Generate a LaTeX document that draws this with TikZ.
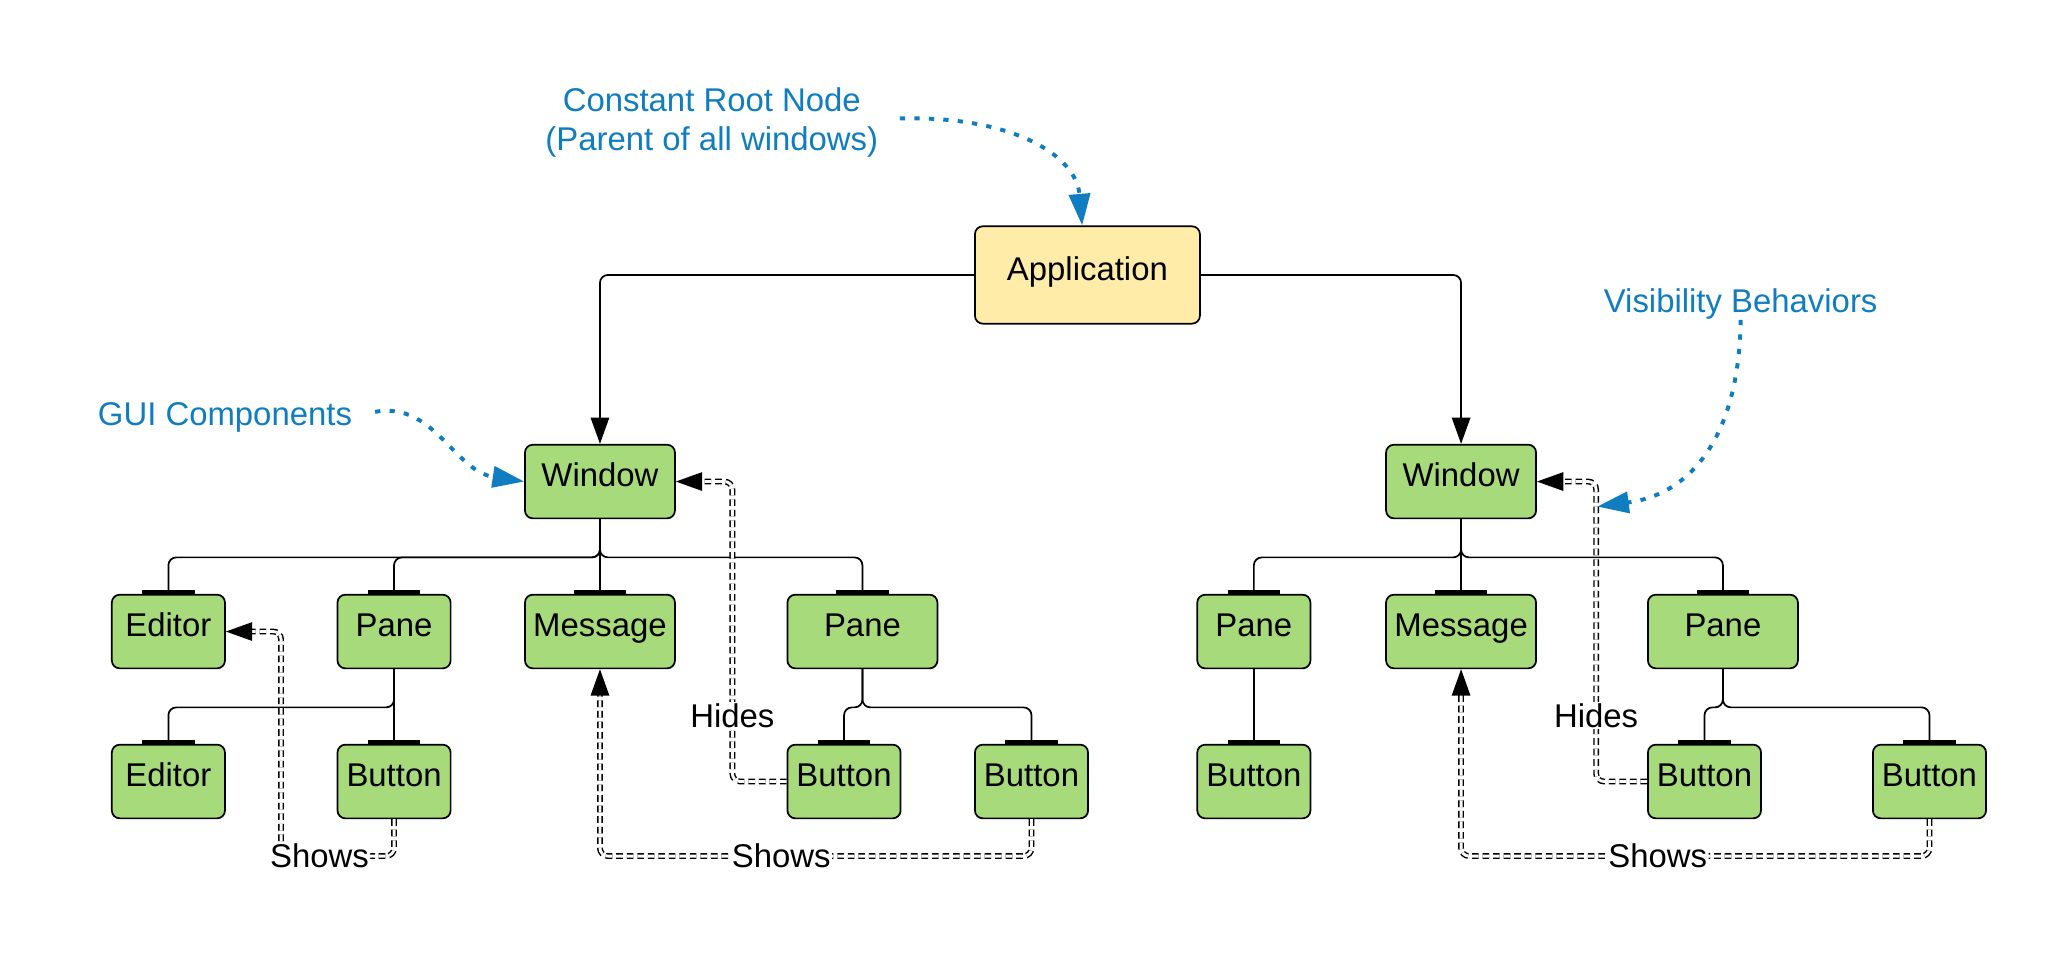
\documentclass[tikz,border=0pt]{standalone}
\usepackage{fontspec}
\setmainfont{Liberation Sans}
\usetikzlibrary{arrows.meta}
\definecolor{boxgreen}{RGB}{166,218,122}
\definecolor{appyellow}{RGB}{255,236,168}
\definecolor{noteblue}{RGB}{16,125,192}
\tikzset{
  widget/.style={draw, line width=1.3pt, rounded corners=6pt, fill=boxgreen,
    minimum height=56pt, inner sep=0pt, text height=18pt, text depth=10pt,
    font=\fontsize{25}{30}\selectfont},
  narrow/.style={widget, minimum width=86pt},
  broad/.style={widget, minimum width=114pt},
  trunk/.style={line width=1.3pt, rounded corners=6pt, -{Triangle[length=20pt,width=14pt]}},
  branch/.style={line width=1.3pt, rounded corners=6pt, -{Bar[width=40pt,line width=2.6pt]}},
  link/.style={double, double distance=2.2pt, line width=1.1pt, dash pattern=on 5pt off 3pt,
    rounded corners=6pt, -{Triangle[length=20pt,width=14pt]}},
  linklabel/.style={fill=white, inner sep=1pt, font=\fontsize{25}{30}\selectfont},
  note/.style={text=noteblue, align=center, font=\fontsize{25}{30}\selectfont},
  notearrow/.style={noteblue, line width=3pt, dash pattern=on 4pt off 7pt,
    -{Triangle[length=24pt,width=16pt]}}
}
\begin{document}
\begin{tikzpicture}[x=1pt,y=-1pt]
  \useasboundingbox (0,0) rectangle (1568,724.3);
  % root
  \node[widget, fill=appyellow, minimum width=171pt, minimum height=74pt] (app) at (826.5,209) {Application};
  % windows
  \node[broad] (win1) at (456,366) {Window};
  \node[broad] (win2) at (1110.5,366) {Window};
  % second row
  \node[narrow] (ed1) at (128,480) {Editor};
  \node[narrow] (pane1) at (299.5,480) {Pane};
  \node[broad] (msg1) at (456,480) {Message};
  \node[broad] (pane2) at (655.5,480) {Pane};
  \node[narrow] (pane3) at (953,480) {Pane};
  \node[broad] (msg2) at (1110.5,480) {Message};
  \node[broad] (pane4) at (1309.5,480) {Pane};
  % third row
  \node[narrow] (ed2) at (128,594) {Editor};
  \node[narrow] (btn1) at (299.5,594) {Button};
  \node[narrow] (btn2) at (641.5,594) {Button};
  \node[narrow] (btn3) at (784,594) {Button};
  \node[narrow] (btn4) at (953,594) {Button};
  \node[narrow] (btn5) at (1295.5,594) {Button};
  \node[narrow] (btn6) at (1466.5,594) {Button};

  \draw[trunk] (app.west) -| (win1.north);
  \draw[trunk] (app.east) -| (win2.north);
  \draw[branch] (win1.south) -- ++(0,29) -| (ed1.north);
  \draw[branch] (win1.south) -- ++(0,29) -| (pane1.north);
  \draw[branch] (win1.south) -- (msg1.north);
  \draw[branch] (win1.south) -- ++(0,29) -| (pane2.north);
  \draw[branch] (pane1.south) -- ++(0,29) -| (ed2.north);
  \draw[branch] (pane1.south) -- (btn1.north);
  \draw[branch] (pane2.south) -- ++(0,29) -| (btn2.north);
  \draw[branch] (pane2.south) -- ++(0,29) -| (btn3.north);
  \draw[branch] (win2.south) -- ++(0,29) -| (pane3.north);
  \draw[branch] (win2.south) -- (msg2.north);
  \draw[branch] (win2.south) -- ++(0,29) -| (pane4.north);
  \draw[branch] (pane3.south) -- (btn4.north);
  \draw[branch] (pane4.south) -- ++(0,29) -| (btn5.north);
  \draw[branch] (pane4.south) -- ++(0,29) -| (btn6.north);

  % shows / hides
  \draw[link] (btn1.south) -- ++(0,28) -| ([xshift=42pt]ed1.east) node[linklabel,pos=0.33] {Shows} -- (ed1.east);
  \draw[link] (btn2.west) -| ([xshift=43pt]win1.east) node[linklabel,pos=0.61] {Hides} -- (win1.east);
  \draw[link] (btn3.south) -- ++(0,28) -| (msg1.south) node[linklabel,pos=0.29] {Shows};
  \draw[link] (btn5.west) -| ([xshift=45pt]win2.east) node[linklabel,pos=0.61] {Hides} -- (win2.east);
  \draw[link] (btn6.south) -- ++(0,28) -| (msg2.south) node[linklabel,pos=0.29] {Shows};

  % notes
  \node[note] (rootnote) at (541,93) {Constant Root Node\\(Parent of all windows)};
  \node[note] (guinote) at (171,317) {GUI Components};
  \node[note] (visnote) at (1323,231) {Visibility Behaviors};
  \coordinate (vishit) at (1214,385);
  \draw[notearrow] ([xshift=13pt,yshift=3pt]rootnote.east) .. controls (770,88) and (818,118) .. ([xshift=-4pt]app.north);
  \draw[notearrow] ([xshift=14pt,yshift=4pt]guinote.east) .. controls (330,305) and (345,358) .. (win1.west);
  \draw[notearrow] ([yshift=3pt]visnote.south) .. controls (1322,325) and (1290,375) .. (vishit);
\end{tikzpicture}
\end{document}
